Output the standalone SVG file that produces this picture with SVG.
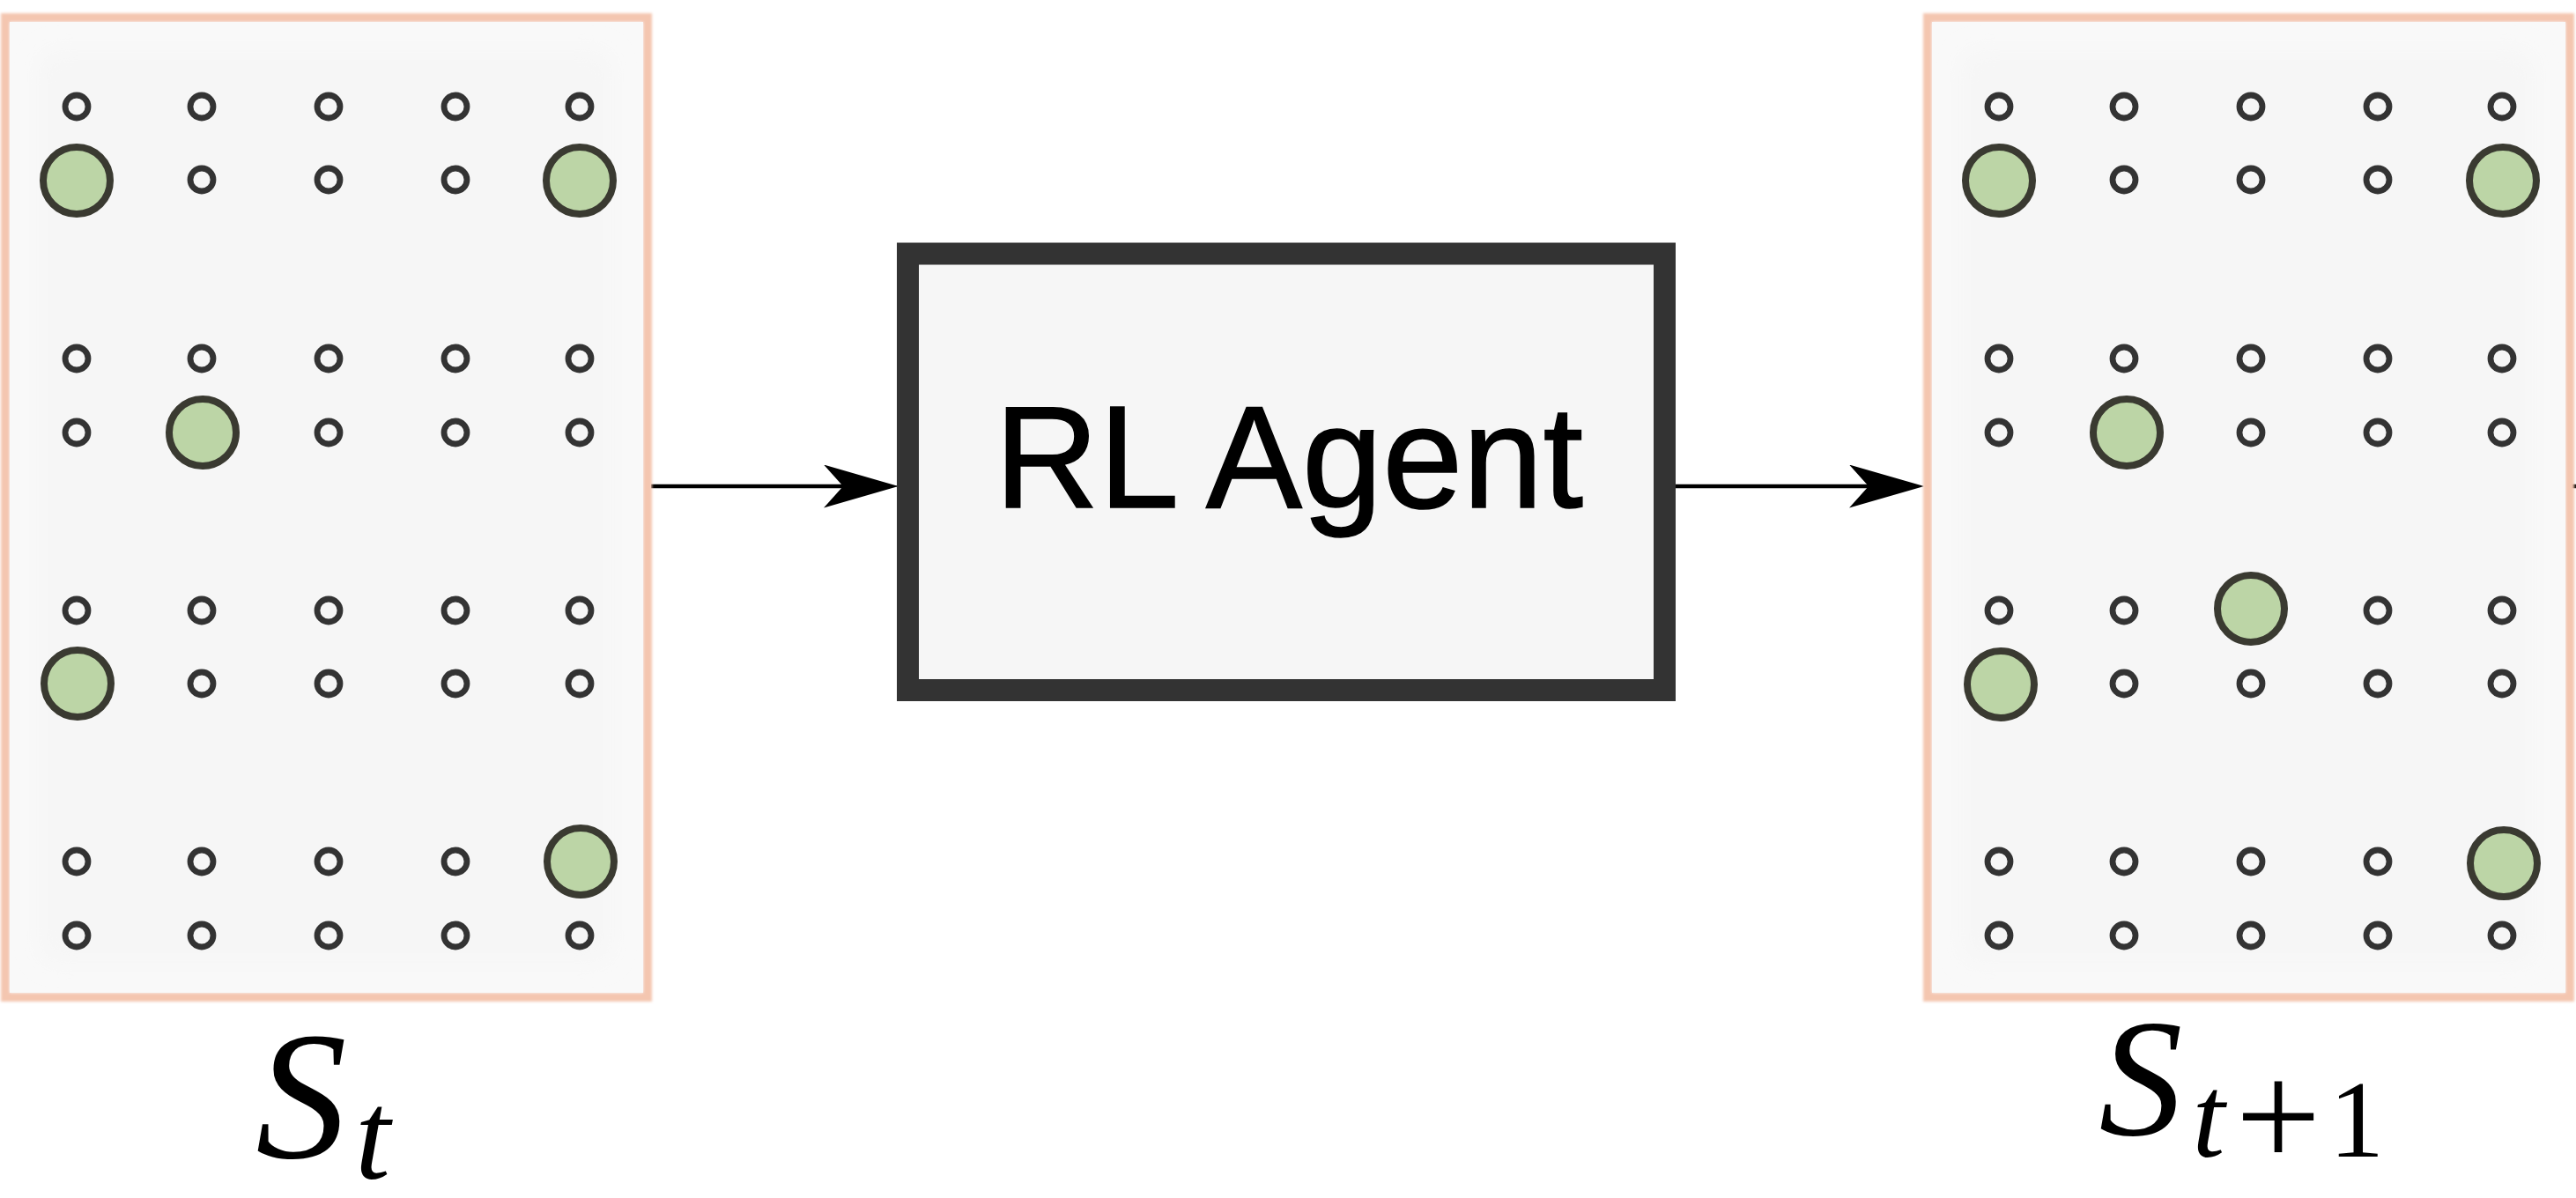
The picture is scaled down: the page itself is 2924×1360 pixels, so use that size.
<svg xmlns="http://www.w3.org/2000/svg" width="2924" height="1360" viewBox="0 0 2924 1360">
  <style>
    .frame { fill: #f9f9f9; stroke: #f4c6b0; stroke-width: 10; }
    .inner { fill: #f6f6f6; }
    .dot { fill: none; stroke: #333333; stroke-width: 6.8; }
    .big { fill: #bcd5a6; stroke: #3a3a31; stroke-width: 8; }
    .box { fill: #f6f6f6; stroke: #333333; stroke-width: 25; }
    .lbl { font-family: "Liberation Sans", Arial, sans-serif; font-size: 166px; fill: #000000; stroke: #000000; stroke-width: 1.5; }
    .math { font-family: "Liberation Serif", "Times New Roman", serif; fill: #000000; }
    .conn { stroke: #000000; stroke-width: 4.5; fill: none; }
  </style>
  <defs>
    <filter id="soft" x="-5%" y="-5%" width="110%" height="110%">
      <feGaussianBlur stdDeviation="1.6"/>
    </filter>
    <filter id="softer" x="-10%" y="-10%" width="120%" height="120%">
      <feGaussianBlur stdDeviation="12"/>
    </filter>
    <marker id="arrow" markerUnits="userSpaceOnUse" viewBox="0 0 85 49" refX="75" refY="24.5" markerWidth="85" markerHeight="49" orient="auto">
      <path d="M0,0 L85,24.5 L0,49 L22,24.5 Z" fill="#000000"/>
    </marker>
  </defs>
  <rect width="2924" height="1360" fill="#ffffff"/>

  <g id="connectors">
    <line class="conn" x1="739" y1="552" x2="1010" y2="552" marker-end="url(#arrow)"/>
    <line class="conn" x1="1902" y1="552" x2="2174" y2="552" marker-end="url(#arrow)"/>
    <line class="conn" x1="2919" y1="552" x2="2924" y2="552"/>
  </g>

  <g id="state-t">
    <rect class="frame" x="6" y="20" width="729" height="1112" filter="url(#soft)"/>
    <rect class="frame" x="11" y="25" width="719" height="1102" style="stroke:none"/>
    <rect class="inner" x="44" y="57" width="651" height="1036" rx="22" filter="url(#softer)"/>
    <g>
      <circle class="dot" cx="87" cy="121" r="13"/><circle class="dot" cx="229" cy="121" r="13"/><circle class="dot" cx="373" cy="121" r="13"/><circle class="dot" cx="517" cy="121" r="13"/><circle class="dot" cx="658" cy="121" r="13"/>
      <circle class="dot" cx="229" cy="204" r="13"/><circle class="dot" cx="373" cy="204" r="13"/><circle class="dot" cx="517" cy="204" r="13"/>
      <circle class="dot" cx="87" cy="407" r="13"/><circle class="dot" cx="229" cy="407" r="13"/><circle class="dot" cx="373" cy="407" r="13"/><circle class="dot" cx="517" cy="407" r="13"/><circle class="dot" cx="658" cy="407" r="13"/>
      <circle class="dot" cx="87" cy="491" r="13"/><circle class="dot" cx="373" cy="491" r="13"/><circle class="dot" cx="517" cy="491" r="13"/><circle class="dot" cx="658" cy="491" r="13"/>
      <circle class="dot" cx="87" cy="693" r="13"/><circle class="dot" cx="229" cy="693" r="13"/><circle class="dot" cx="373" cy="693" r="13"/><circle class="dot" cx="517" cy="693" r="13"/><circle class="dot" cx="658" cy="693" r="13"/>
      <circle class="dot" cx="229" cy="776" r="13"/><circle class="dot" cx="373" cy="776" r="13"/><circle class="dot" cx="517" cy="776" r="13"/><circle class="dot" cx="658" cy="776" r="13"/>
      <circle class="dot" cx="87" cy="978" r="13"/><circle class="dot" cx="229" cy="978" r="13"/><circle class="dot" cx="373" cy="978" r="13"/><circle class="dot" cx="517" cy="978" r="13"/>
      <circle class="dot" cx="87" cy="1062" r="13"/><circle class="dot" cx="229" cy="1062" r="13"/><circle class="dot" cx="373" cy="1062" r="13"/><circle class="dot" cx="517" cy="1062" r="13"/><circle class="dot" cx="658" cy="1062" r="13"/>
      <circle class="big" cx="87" cy="205" r="38"/><circle class="big" cx="658" cy="205" r="38"/>
      <circle class="big" cx="230" cy="491" r="38"/>
      <circle class="big" cx="88" cy="776" r="38"/>
      <circle class="big" cx="659" cy="978" r="38"/>
    </g>
    <text class="math" font-style="italic"><tspan x="342" y="1314" font-size="207" text-anchor="middle">S</tspan><tspan x="423" y="1338" font-size="144" text-anchor="middle">t</tspan></text>
  </g>

  <g id="agent">
    <rect class="box" x="1030.5" y="288" width="859" height="495.5"/>
    <text class="lbl" x="1463" y="576" text-anchor="middle" textLength="668" lengthAdjust="spacingAndGlyphs">RL Agent</text>
  </g>

  <g id="state-t1">
    <rect class="frame" x="2188" y="20" width="729" height="1112" filter="url(#soft)"/>
    <rect class="frame" x="2193" y="25" width="719" height="1102" style="stroke:none"/>
    <rect class="inner" x="2226" y="57" width="651" height="1036" rx="22" filter="url(#softer)"/>
    <g>
      <circle class="dot" cx="2269" cy="121" r="13"/><circle class="dot" cx="2411" cy="121" r="13"/><circle class="dot" cx="2555" cy="121" r="13"/><circle class="dot" cx="2699" cy="121" r="13"/><circle class="dot" cx="2840" cy="121" r="13"/>
      <circle class="dot" cx="2411" cy="204" r="13"/><circle class="dot" cx="2555" cy="204" r="13"/><circle class="dot" cx="2699" cy="204" r="13"/>
      <circle class="dot" cx="2269" cy="407" r="13"/><circle class="dot" cx="2411" cy="407" r="13"/><circle class="dot" cx="2555" cy="407" r="13"/><circle class="dot" cx="2699" cy="407" r="13"/><circle class="dot" cx="2840" cy="407" r="13"/>
      <circle class="dot" cx="2269" cy="491" r="13"/><circle class="dot" cx="2555" cy="491" r="13"/><circle class="dot" cx="2699" cy="491" r="13"/><circle class="dot" cx="2840" cy="491" r="13"/>
      <circle class="dot" cx="2269" cy="693" r="13"/><circle class="dot" cx="2411" cy="693" r="13"/><circle class="dot" cx="2699" cy="693" r="13"/><circle class="dot" cx="2840" cy="693" r="13"/>
      <circle class="dot" cx="2411" cy="776" r="13"/><circle class="dot" cx="2555" cy="776" r="13"/><circle class="dot" cx="2699" cy="776" r="13"/><circle class="dot" cx="2840" cy="776" r="13"/>
      <circle class="dot" cx="2269" cy="978" r="13"/><circle class="dot" cx="2411" cy="978" r="13"/><circle class="dot" cx="2555" cy="978" r="13"/><circle class="dot" cx="2699" cy="978" r="13"/>
      <circle class="dot" cx="2269" cy="1062" r="13"/><circle class="dot" cx="2411" cy="1062" r="13"/><circle class="dot" cx="2555" cy="1062" r="13"/><circle class="dot" cx="2699" cy="1062" r="13"/><circle class="dot" cx="2840" cy="1062" r="13"/>
      <circle class="big" cx="2269" cy="205" r="38"/><circle class="big" cx="2841" cy="205" r="38"/>
      <circle class="big" cx="2414" cy="491" r="38"/>
      <circle class="big" cx="2555" cy="691" r="38"/>
      <circle class="big" cx="2271" cy="777" r="38"/>
      <circle class="big" cx="2842" cy="980" r="38"/>
    </g>
    <text class="math"><tspan x="2430" y="1288" font-size="190" font-style="italic" text-anchor="middle">S</tspan><tspan x="2507" y="1313" font-size="133" font-style="italic" text-anchor="middle">t</tspan><tspan x="2586" y="1325" font-size="172" text-anchor="middle">+</tspan><tspan x="2675" y="1313" font-size="125" text-anchor="middle">1</tspan></text>
  </g>
</svg>
